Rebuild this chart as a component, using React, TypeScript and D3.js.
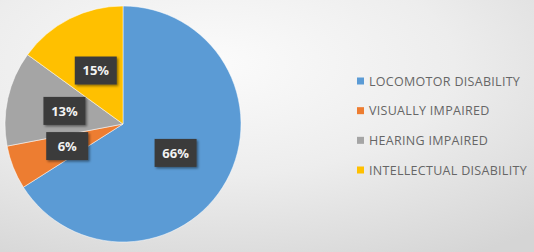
import { useEffect, useRef } from "react";
import * as d3 from "d3";

// ── Data ──────────────────────────────────────────────────────────────────────
const categories = [
  "LOCOMOTOR DISABILITY",
  "VISUALLY IMPAIRED",
  "HEARING IMPAIRED",
  "INTELLECTUAL DISABILITY",
];
const shares = [66, 6, 13, 15];
const colors = ["#5b9bd5", "#ed7d31", "#a5a5a5", "#ffc000"];

type Slice = { name: string; value: number; color: string };

export default function App() {
  const svgRef = useRef<SVGSVGElement>(null);

  useEffect(() => {
    if (!svgRef.current) return;

    // ── Dimensions ─────────────────────────────────────────────────────────────
    const width = 534;
    const height = 252;
    const cx = 123;
    const cy = 124;
    const radius = 118;
    const labelRadius = 60;

    const svg = d3.select(svgRef.current);
    svg.selectAll("*").remove();

    // ── Background gradient + shadow filter ────────────────────────────────────
    const defs = svg.append("defs");
    const grad = defs
      .append("radialGradient")
      .attr("id", "bg")
      .attr("cx", "0.4")
      .attr("cy", "0.25")
      .attr("r", "0.9");
    grad.append("stop").attr("offset", "0").attr("stop-color", "#fbfbfb");
    grad.append("stop").attr("offset", "0.5").attr("stop-color", "#ededed");
    grad.append("stop").attr("offset", "1").attr("stop-color", "#d5d5d5");

    const shadow = defs
      .append("filter")
      .attr("id", "shadow")
      .attr("x", "-30%")
      .attr("y", "-30%")
      .attr("width", "160%")
      .attr("height", "160%");
    shadow
      .append("feDropShadow")
      .attr("dx", 1.5)
      .attr("dy", 1.5)
      .attr("stdDeviation", 1.2)
      .attr("flood-color", "#000")
      .attr("flood-opacity", 0.45);

    svg
      .append("rect")
      .attr("width", width)
      .attr("height", height)
      .attr("fill", "url(#bg)");

    // ── Pie ────────────────────────────────────────────────────────────────────
    const data: Slice[] = categories.map((name, i) => ({
      name,
      value: shares[i],
      color: colors[i],
    }));

    const pie = d3
      .pie<Slice>()
      .value((d) => d.value)
      .sort(null);
    const arcs = pie(data);

    const arc = d3.arc<d3.PieArcDatum<Slice>>().innerRadius(0).outerRadius(radius);
    const labelArc = d3
      .arc<d3.PieArcDatum<Slice>>()
      .innerRadius(labelRadius)
      .outerRadius(labelRadius);

    const g = svg.append("g").attr("transform", `translate(${cx},${cy})`);

    g.selectAll("path")
      .data(arcs)
      .enter()
      .append("path")
      .attr("d", arc)
      .attr("fill", (d) => d.data.color)
      .attr("stroke", "#fff")
      .attr("stroke-width", 0.5);

    // ── Data labels (dark boxes) ───────────────────────────────────────────────
    const labels = g
      .selectAll("g.label")
      .data(arcs)
      .enter()
      .append("g")
      .attr("class", "label")
      .attr("transform", (d) => {
        const [x, y] = labelArc.centroid(d);
        return `translate(${x},${y})`;
      });

    labels
      .append("rect")
      .attr("x", -21)
      .attr("y", -14)
      .attr("width", 42)
      .attr("height", 28)
      .attr("fill", "#3b3b3b")
      .attr("filter", "url(#shadow)");

    labels
      .append("text")
      .attr("text-anchor", "middle")
      .attr("dy", "0.36em")
      .attr("fill", "#f2f2f2")
      .attr("font-family", "'Open Sans', sans-serif")
      .attr("font-weight", "bold")
      .attr("font-size", 13)
      .text((d) => `${d.data.value}%`);

    // ── Legend ─────────────────────────────────────────────────────────────────
    const legendY = d3
      .scalePoint<string>()
      .domain(categories)
      .range([81, 170]);

    const legend = svg
      .append("g")
      .selectAll("g")
      .data(data)
      .enter()
      .append("g")
      .attr("transform", (d) => `translate(357,${legendY(d.name)})`);

    legend
      .append("rect")
      .attr("x", 0)
      .attr("y", -3.5)
      .attr("width", 7)
      .attr("height", 7)
      .attr("fill", (d) => d.color);

    legend
      .append("text")
      .attr("x", 12)
      .attr("dy", "0.36em")
      .attr("fill", "#666666")
      .attr("font-family", "'Open Sans', sans-serif")
      .attr("font-size", 12.5)
      .attr("letter-spacing", 0.3)
      .text((d) => d.name);
  }, []);

  return (
    <svg
      ref={svgRef}
      width={534}
      height={252}
      viewBox="0 0 534 252"
      style={{ position: "absolute", left: 0, top: 0, display: "block" }}
    />
  );
}
